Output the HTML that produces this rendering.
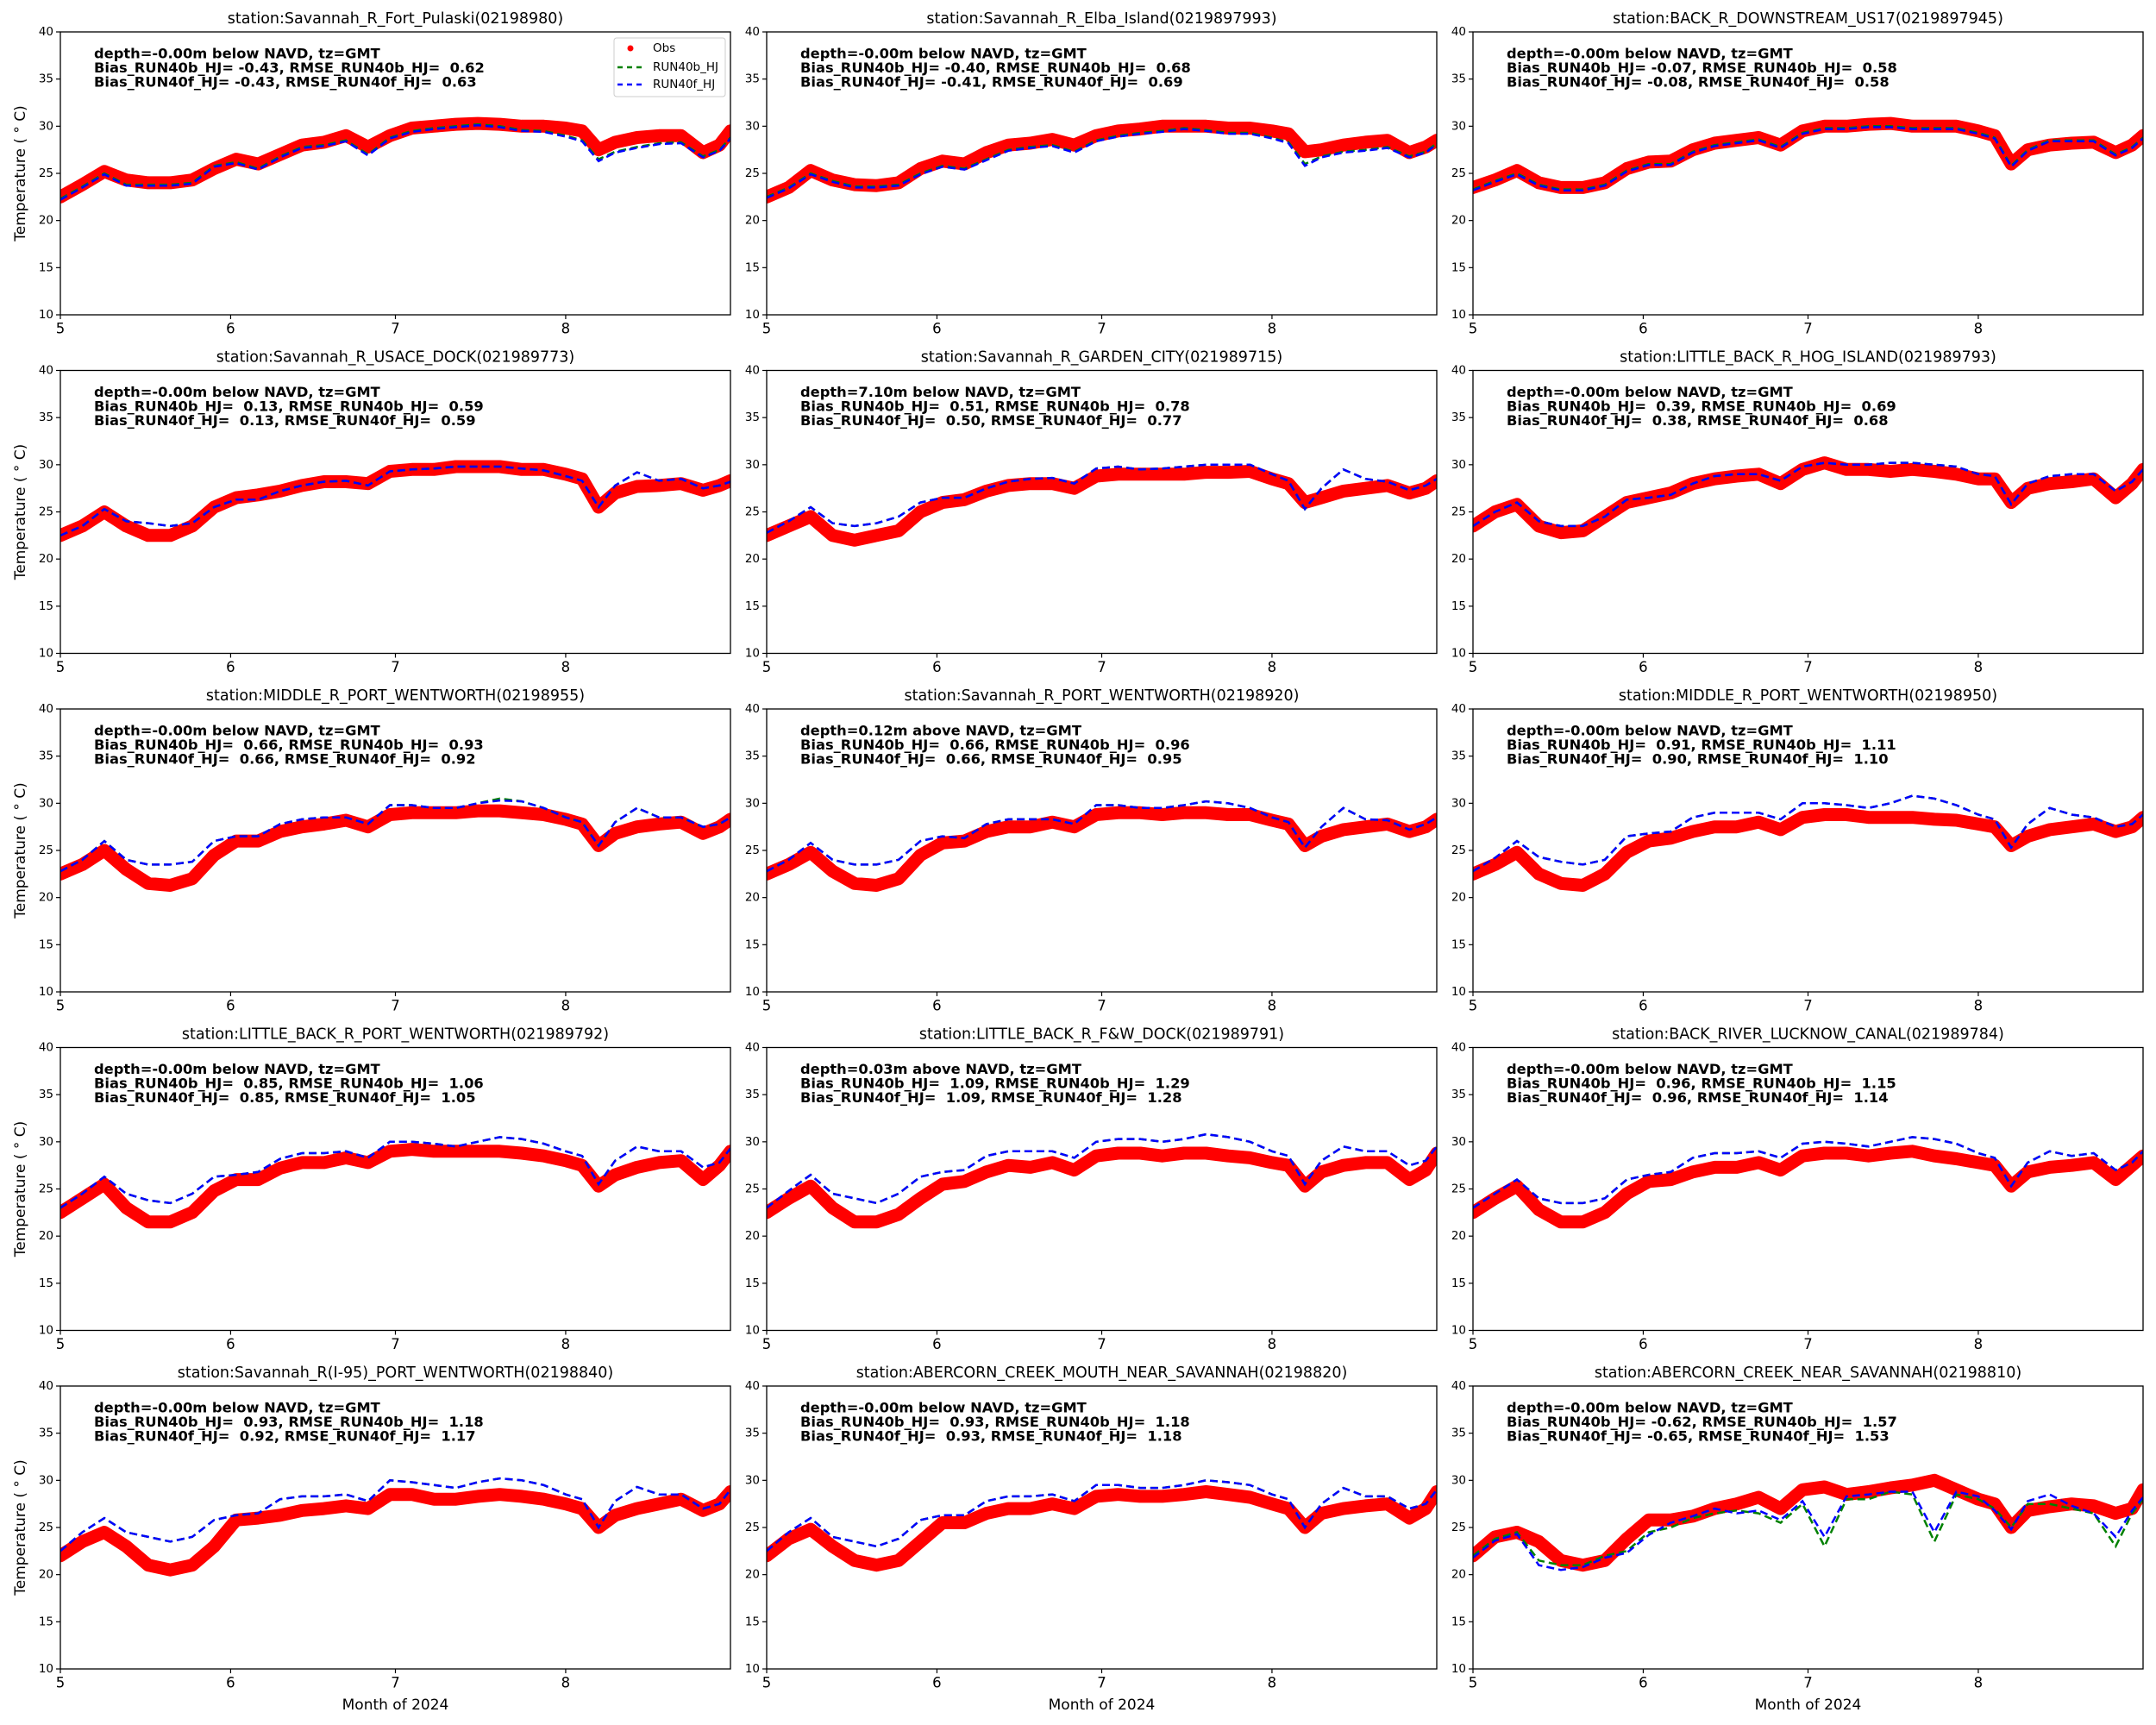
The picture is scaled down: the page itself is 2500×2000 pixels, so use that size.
<!DOCTYPE html>
<html><head><meta charset="utf-8">
<style>
html,body{margin:0;padding:0;background:#fff;}
svg{display:block;font-family:"DejaVu Sans","Liberation Sans",sans-serif;}
.pre{white-space:pre;}
</style></head>
<body>
<svg id="fig" width="2500" height="2000" viewBox="0 0 2500 2000" xmlns="http://www.w3.org/2000/svg">
<rect width="2500" height="2000" fill="#fff"/>
</svg>
<script>
// x values: day offsets from May 1, 2024
const days = [0,4,8,12,16,20,24,28,32,36,40,44,48,52,56,60,64,68,72,76,80,84,88,92,95,98,101,105,109,113,117,120,122];
const monthTicks = [0,31,61,92];
const monthLabels = ["5","6","7","8"];
const yTicks = [10,15,20,25,30,35,40];

const titles = [
"station:Savannah_R_Fort_Pulaski(02198980)",
"station:Savannah_R_Elba_Island(0219897993)",
"station:BACK_R_DOWNSTREAM_US17(0219897945)",
"station:Savannah_R_USACE_DOCK(021989773)",
"station:Savannah_R_GARDEN_CITY(021989715)",
"station:LITTLE_BACK_R_HOG_ISLAND(021989793)",
"station:MIDDLE_R_PORT_WENTWORTH(02198955)",
"station:Savannah_R_PORT_WENTWORTH(02198920)",
"station:MIDDLE_R_PORT_WENTWORTH(02198950)",
"station:LITTLE_BACK_R_PORT_WENTWORTH(021989792)",
"station:LITTLE_BACK_R_F&W_DOCK(021989791)",
"station:BACK_RIVER_LUCKNOW_CANAL(021989784)",
"station:Savannah_R(I-95)_PORT_WENTWORTH(02198840)",
"station:ABERCORN_CREEK_MOUTH_NEAR_SAVANNAH(02198820)",
"station:ABERCORN_CREEK_NEAR_SAVANNAH(02198810)"];

const depths = ["depth=-0.00m below NAVD, tz=GMT","depth=-0.00m below NAVD, tz=GMT","depth=-0.00m below NAVD, tz=GMT",
"depth=-0.00m below NAVD, tz=GMT","depth=7.10m below NAVD, tz=GMT","depth=-0.00m below NAVD, tz=GMT",
"depth=-0.00m below NAVD, tz=GMT","depth=0.12m above NAVD, tz=GMT","depth=-0.00m below NAVD, tz=GMT",
"depth=-0.00m below NAVD, tz=GMT","depth=0.03m above NAVD, tz=GMT","depth=-0.00m below NAVD, tz=GMT",
"depth=-0.00m below NAVD, tz=GMT","depth=-0.00m below NAVD, tz=GMT","depth=-0.00m below NAVD, tz=GMT"];
const biasB = ["-0.43","-0.40","-0.07"," 0.13"," 0.51"," 0.39"," 0.66"," 0.66"," 0.91"," 0.85"," 1.09"," 0.96"," 0.93"," 0.93","-0.62"];
const rmseB = ["0.62","0.68","0.58","0.59","0.78","0.69","0.93","0.96","1.11","1.06","1.29","1.15","1.18","1.18","1.57"];
const biasF = ["-0.43","-0.41","-0.08"," 0.13"," 0.50"," 0.38"," 0.66"," 0.66"," 0.90"," 0.85"," 1.09"," 0.96"," 0.92"," 0.93","-0.65"];
const rmseF = ["0.63","0.69","0.58","0.59","0.77","0.68","0.92","0.95","1.10","1.05","1.28","1.14","1.17","1.18","1.53"];

const obs = [
[22.5,23.8,25.2,24.3,24,24,24.3,25.5,26.5,26,27,28,28.3,29,27.8,29,29.8,30,30.2,30.3,30.2,30,30,29.8,29.5,27.5,28.3,28.8,29,29,27.2,28,29.5],
[22.5,23.5,25.3,24.3,23.8,23.7,24,25.5,26.3,26,27.2,28,28.2,28.6,28,29,29.5,29.7,30,30,30,29.8,29.8,29.5,29.2,27.3,27.5,28,28.3,28.5,27.2,27.8,28.5],
[23.5,24.3,25.3,24,23.5,23.5,24,25.5,26.2,26.3,27.5,28.2,28.5,28.8,28,29.5,30,30,30.2,30.3,30,30,30,29.5,29,26,27.5,28,28.2,28.3,27.2,28,29],
[22.5,23.5,25,23.5,22.5,22.5,23.5,25.5,26.5,26.8,27.2,27.8,28.2,28.2,28,29.3,29.5,29.5,29.8,29.8,29.8,29.5,29.5,29,28.5,25.5,27,27.7,27.8,28,27.3,27.8,28.3],
[22.5,23.5,24.5,22.5,22,22.5,23,25,26,26.3,27.2,27.8,28,28,27.5,28.8,29,29,29,29,29.2,29.2,29.3,28.5,28,26,26.5,27.2,27.5,27.8,27,27.5,28.3],
[23.5,25,25.8,23.5,22.8,23,24.5,26,26.5,27,28,28.5,28.8,29,28,29.5,30.2,29.5,29.5,29.3,29.5,29.3,29,28.5,28.5,26,27.5,28,28.2,28.5,26.5,28,29.5],
[22.5,23.5,25,23,21.5,21.3,22,24.5,26,26,27,27.5,27.8,28.2,27.5,28.8,29,29,29,29.2,29.2,29,28.8,28.3,27.8,25.5,26.8,27.5,27.8,28,26.8,27.5,28.3],
[22.5,23.5,24.8,22.8,21.5,21.3,22,24.5,25.8,26,27,27.5,27.5,28,27.5,28.8,29,29,28.8,29,29,28.8,28.8,28.2,27.8,25.5,26.5,27.2,27.5,27.8,27,27.5,28.3],
[22.5,23.5,24.8,22.5,21.5,21.3,22.5,24.8,26,26.3,27,27.5,27.5,28,27.2,28.5,28.8,28.8,28.5,28.5,28.5,28.3,28.2,27.8,27.5,25.5,26.5,27.2,27.5,27.8,27,27.5,28.5],
[22.5,24,25.5,23,21.5,21.5,22.5,24.8,26,26,27.2,27.8,27.8,28.3,27.8,29,29.2,29,29,29,29,28.8,28.5,28,27.5,25.3,26.5,27.3,27.8,28,26,27.5,29],
[22.5,24,25.3,23,21.5,21.5,22.3,24,25.5,25.8,26.8,27.5,27.3,27.8,27,28.5,28.8,28.8,28.5,28.8,28.8,28.5,28.3,27.8,27.5,25.3,26.8,27.5,27.8,27.8,26,27,28.8],
[22.5,24,25.3,22.8,21.5,21.5,22.5,24.5,25.8,26,26.8,27.3,27.3,27.8,27,28.5,28.8,28.8,28.5,28.8,29,28.5,28.2,27.8,27.5,25.3,26.8,27.3,27.5,27.8,26,27.5,28.5],
[22,23.5,24.5,23,21,20.5,21,23,25.8,26,26.3,26.8,27,27.3,27,28.5,28.5,28,28,28.3,28.5,28.3,28,27.5,27,25,26.3,27,27.5,28,26.8,27.5,28.8],
[22,23.8,24.8,23,21.5,21,21.5,23.5,25.5,25.5,26.5,27,27,27.5,27,28.3,28.5,28.3,28.3,28.5,28.8,28.5,28.2,27.5,27,25,26.5,27,27.3,27.5,26,27,28.8],
[22,24,24.5,23.5,21.5,21,21.5,23.8,25.8,25.8,26.2,27,27.5,28.2,27,29,29.3,28.5,28.8,29.2,29.5,30,29,28,27.5,25,26.8,27.2,27.5,27.3,26.5,27,29]];

const run40b = [
[22.3,23.6,25,23.8,23.8,23.8,24,25.8,26.2,25.5,26.8,27.8,28,28.5,27,28.8,29.5,29.8,30,30.2,30,29.6,29.5,29,28.5,26.5,27.3,27.8,28.2,28.3,26.8,27.5,28.8],
[22.5,23.5,25,24.2,23.6,23.6,23.8,25,25.8,25.5,26.5,27.5,27.8,28,27.3,28.5,29,29.3,29.5,29.8,29.6,29.3,29.3,28.8,28.3,26,26.8,27.3,27.5,27.8,26.8,27.3,28.2],
[23.3,24.2,25,23.8,23.3,23.3,23.8,25.3,26,26,27.3,28,28.3,28.6,27.8,29.3,29.8,29.8,30,30,29.8,29.8,29.8,29.3,28.8,25.8,27.5,28.5,28.5,28.5,27,27.8,28.8],
[22.5,23.5,25.3,24,23.8,23.5,23.8,25.5,26.3,26.3,27.2,27.8,28.2,28.3,27.8,29.3,29.5,29.6,29.8,29.8,29.8,29.6,29.4,28.8,28.3,25.5,27.8,29.2,28.3,28.5,27.5,27.8,28.2],
[22.8,24,25.5,23.8,23.5,23.8,24.5,26,26.5,26.5,27.5,28.2,28.5,28.6,28,29.6,29.8,29.5,29.6,29.8,30,30,30,29,28.3,25.3,27.5,29.5,28.5,28.2,27.3,27.8,28.5],
[23.5,25,26,24,23.5,23.5,24.5,26.3,26.5,26.8,28,28.8,29,29,28.3,29.8,30.2,30,30,30.2,30.2,30,29.8,29,28.8,25.8,28,28.8,29,29,27.2,28.2,29.5],
[22.8,24,26,24,23.5,23.5,23.8,26,26.5,26.5,27.8,28.3,28.5,28.5,27.8,29.8,29.8,29.5,29.5,30,30.5,30.2,29.5,28.5,28,25.5,28,29.5,28.5,28.5,27.5,27.8,28.5],
[22.8,24,25.8,24,23.5,23.5,24,26,26.5,26.3,27.8,28.3,28.3,28.3,27.8,29.8,29.8,29.5,29.5,29.8,30.2,30,29.5,28.5,28,25.3,27.5,29.5,28.3,28.2,27.2,27.8,28.5],
[22.8,24.2,26,24.3,23.8,23.5,24,26.5,26.8,27,28.5,29,29,29,28.3,30,30,29.8,29.5,30,30.8,30.5,29.8,28.8,28.3,25.3,27.8,29.5,28.8,28.5,27.5,27.8,28.8],
[23,24.5,26.3,24.5,23.8,23.5,24.5,26.3,26.5,26.8,28.2,28.8,28.8,29,28.3,30,30,29.8,29.5,30,30.5,30.3,29.8,29,28.5,25.5,28,29.5,29,29,27.3,27.8,29.3],
[23,24.8,26.5,24.5,24,23.5,24.5,26.3,26.8,27,28.5,29,29,29,28.3,30,30.3,30.3,30,30.3,30.8,30.5,30,29,28.5,25.5,28,29.5,29,29,27.5,28,29.5],
[23,24.5,26,24,23.5,23.5,24,26,26.5,26.8,28.3,28.8,28.8,29,28.3,29.8,30,29.8,29.5,30,30.5,30.3,29.8,28.8,28.3,25.3,27.8,29,28.5,28.8,27,27.8,29],
[22.5,24.5,26,24.5,24,23.5,24,25.8,26.3,26.5,28,28.3,28.3,28.5,27.8,30,29.8,29.5,29.2,29.8,30.2,30,29.5,28.5,28,25,27.8,29.3,28.5,28.5,27,27.5,29],
[22.5,24.5,26,24,23.5,23,23.8,25.8,26.3,26.3,27.8,28.3,28.3,28.5,27.8,29.5,29.5,29.2,29.2,29.5,30,29.8,29.5,28.5,28,25,27.5,29.2,28.3,28.3,27,27.5,29],
[22,23.8,24.5,21.5,21,21,22,22.5,24.5,25,26,26.5,26.8,26.5,25.5,27.5,23,28,28,28.8,28.5,23.5,28.5,28,27,25,27.5,27.5,27,26.5,23,26.5,28]];

const run40f = [
[22.2,23.5,24.9,23.7,23.7,23.7,23.9,25.7,26.1,25.4,26.7,27.7,27.9,28.4,26.9,28.7,29.4,29.7,29.9,30.1,29.9,29.5,29.4,28.9,28.4,26.3,27.2,27.7,28.1,28.2,26.7,27.4,28.7],
[22.4,23.4,24.9,24.1,23.5,23.5,23.7,24.9,25.7,25.4,26.4,27.4,27.7,27.9,27.2,28.4,28.9,29.2,29.4,29.7,29.5,29.2,29.2,28.7,28.2,25.8,26.7,27.2,27.4,27.7,26.7,27.2,28.1],
[23.2,24.1,24.9,23.7,23.2,23.2,23.7,25.2,25.9,25.9,27.2,27.9,28.2,28.5,27.7,29.2,29.7,29.7,29.9,29.9,29.7,29.7,29.7,29.2,28.7,25.7,27.4,28.4,28.4,28.4,26.9,27.7,28.7],
[22.5,23.5,25.3,24,23.8,23.5,23.8,25.5,26.3,26.3,27.2,27.8,28.2,28.3,27.8,29.3,29.5,29.6,29.8,29.8,29.8,29.6,29.4,28.8,28.3,25.5,27.8,29.2,28.3,28.5,27.5,27.8,28.2],
[22.8,24,25.5,23.8,23.5,23.8,24.5,26,26.5,26.5,27.5,28.2,28.5,28.6,28,29.6,29.8,29.5,29.6,29.8,30,30,30,29,28.3,25.3,27.5,29.5,28.5,28.2,27.3,27.8,28.5],
[23.5,25,26,24,23.5,23.5,24.5,26.3,26.5,26.8,28,28.8,29,29,28.3,29.8,30.2,30,30,30.2,30.2,30,29.8,29,28.8,25.8,28,28.8,29,29,27.2,28.2,29.5],
[22.8,24,26,24,23.5,23.5,23.8,26,26.5,26.5,27.8,28.3,28.5,28.5,27.8,29.8,29.8,29.5,29.5,30,30.3,30.2,29.5,28.5,28,25.5,28,29.5,28.5,28.5,27.5,27.8,28.5],
[22.8,24,25.8,24,23.5,23.5,24,26,26.5,26.3,27.8,28.3,28.3,28.3,27.8,29.8,29.8,29.5,29.5,29.8,30.2,30,29.5,28.5,28,25.3,27.5,29.5,28.3,28.2,27.2,27.8,28.5],
[22.8,24.2,26,24.3,23.8,23.5,24,26.5,26.8,27,28.5,29,29,29,28.3,30,30,29.8,29.5,30,30.8,30.5,29.8,28.8,28.3,25.3,27.8,29.5,28.8,28.5,27.5,27.8,28.8],
[23,24.5,26.3,24.5,23.8,23.5,24.5,26.3,26.5,26.8,28.2,28.8,28.8,29,28.3,30,30,29.8,29.5,30,30.5,30.3,29.8,29,28.5,25.5,28,29.5,29,29,27.3,27.8,29.3],
[23,24.8,26.5,24.5,24,23.5,24.5,26.3,26.8,27,28.5,29,29,29,28.3,30,30.3,30.3,30,30.3,30.8,30.5,30,29,28.5,25.5,28,29.5,29,29,27.5,28,29.5],
[23,24.5,26,24,23.5,23.5,24,26,26.5,26.8,28.3,28.8,28.8,29,28.3,29.8,30,29.8,29.5,30,30.5,30.3,29.8,28.8,28.3,25.3,27.8,29,28.5,28.8,27,27.8,29],
[22.5,24.5,26,24.5,24,23.5,24,25.8,26.3,26.5,28,28.3,28.3,28.5,27.8,30,29.8,29.5,29.2,29.8,30.2,30,29.5,28.5,28,25,27.8,29.3,28.5,28.5,27,27.5,29],
[22.5,24.5,26,24,23.5,23,23.8,25.8,26.3,26.3,27.8,28.3,28.3,28.5,27.8,29.5,29.5,29.2,29.2,29.5,30,29.8,29.5,28.5,28,25,27.5,29.2,28.3,28.3,27,27.5,29],
[21.8,23.6,24.3,21,20.5,20.8,21.8,22.3,24.2,25.5,26.2,27,26.5,26.8,25.8,27.8,24,28.3,28.5,28.8,28.8,24.5,28.8,28.3,26.8,24.8,27.8,28.5,27.3,26.5,24,26.8,28.2]];

const NS = "http://www.w3.org/2000/svg";
const fig = document.getElementById("fig");
const colLeft = [70, 889, 1708];
const rowTop = [37, 429.5, 822, 1214.5, 1607];
const W = 777, H = 328;
const X0 = 0, X1 = 122, Y0 = 10, Y1 = 40;

function mk(tag, attrs, parent) {
  const e = document.createElementNS(NS, tag);
  for (const k in attrs) e.setAttribute(k, attrs[k]);
  parent.appendChild(e);
  return e;
}

for (let p = 0; p < 15; p++) {
  const r = Math.floor(p / 3), c = p % 3;
  const L = colLeft[c], T = rowTop[r];
  const xS = d => L + (d - X0) / (X1 - X0) * W;
  const yS = v => T + (Y1 - v) / (Y1 - Y0) * H;

  const g = mk("g", {}, fig);
  
  

  const clipId = "clip" + p;
  const cp = mk("clipPath", {id: clipId}, g);
  mk("rect", {x: L, y: T, width: W, height: H}, cp);

  const title = mk("text", {x: L + W / 2, y: T - 15, "text-anchor": "middle", "dominant-baseline": "middle", "font-size": 17.5, fill: "#000"}, g);
  title.textContent = titles[p];
  
  

  yTicks.forEach(v => {
    mk("line", {x1: L - 5, x2: L, y1: yS(v), y2: yS(v), stroke: "#000", "stroke-width": 1.2}, g);
    const t = mk("text", {x: L - 8, y: yS(v), "text-anchor": "end", "dominant-baseline": "middle", "font-size": 13.5, fill: "#000"}, g);
    t.textContent = v;
    
    
  });
  monthTicks.forEach((d, i) => {
    mk("line", {x1: xS(d), x2: xS(d), y1: T + H, y2: T + H + 5, stroke: "#000", "stroke-width": 1.2}, g);
    const t = mk("text", {x: xS(d), y: T + H + 17, "text-anchor": "middle", "dominant-baseline": "middle", "font-size": 16.5, fill: "#000"}, g);
    t.textContent = monthLabels[i];
    
    
  });

  if (c === 0) {
    const yl = mk("text", {x: 0, y: 0, "text-anchor": "middle", "dominant-baseline": "middle", "font-size": 17, fill: "#000", transform: "translate(24," + (T + H / 2) + ") rotate(-90)"}, g);
    yl.textContent = "Temperature ( \u00B0 C)";
    
    
  }
  if (r === 4) {
    const xl = mk("text", {x: L + W / 2, y: T + H + 42, "text-anchor": "middle", "dominant-baseline": "middle", "font-size": 17, fill: "#000"}, g);
    xl.textContent = "Month of 2024";
    
    
  }

  const data = mk("g", {"clip-path": "url(#" + clipId + ")"}, g);
  const pts = arr => arr.map((v, i) => xS(days[i]).toFixed(1) + "," + yS(v).toFixed(1)).join(" ");

  const o = mk("polyline", {points: pts(obs[p]), fill: "none", stroke: "#ff0000", "stroke-width": 15, "stroke-linejoin": "round", "stroke-linecap": "round"}, data);
  
  
  const b = mk("polyline", {points: pts(run40b[p]), fill: "none", stroke: "#008000", "stroke-width": 2.5, "stroke-dasharray": "9,5"}, data);
  
  
  const f = mk("polyline", {points: pts(run40f[p]), fill: "none", stroke: "#0000ff", "stroke-width": 2.5, "stroke-dasharray": "9,5"}, data);
  
  

  mk("rect", {x: L, y: T, width: W, height: H, fill: "none", stroke: "#000", "stroke-width": 1.3}, g);

  const ann = [depths[p],
    "Bias_RUN40b_HJ= " + biasB[p] + ", RMSE_RUN40b_HJ=  " + rmseB[p],
    "Bias_RUN40f_HJ= " + biasF[p] + ", RMSE_RUN40f_HJ=  " + rmseF[p]];
  ann.forEach((s, i) => {
    const t = mk("text", {x: L + 39, y: T + 26 + i * 16.5, "dominant-baseline": "middle", "font-size": 16.3, "font-weight": "bold", fill: "#000", "class": "pre"}, g);
    t.textContent = s;
    
    
  });

  if (p === 0) {
    const lg = mk("g", {}, g);
    
    
    mk("rect", {x: 712, y: 44, width: 129, height: 68, rx: 3, fill: "#fff", stroke: "#ccc", "stroke-width": 1}, lg);
    mk("circle", {cx: 731, cy: 56, r: 3.5, fill: "#ff0000"}, lg);
    mk("line", {x1: 716, x2: 746, y1: 78, y2: 78, stroke: "#008000", "stroke-width": 2.5, "stroke-dasharray": "6,5"}, lg);
    mk("line", {x1: 716, x2: 746, y1: 98, y2: 98, stroke: "#0000ff", "stroke-width": 2.5, "stroke-dasharray": "6,5"}, lg);
    [["Obs", 56], ["RUN40b_HJ", 78], ["RUN40f_HJ", 98]].forEach(e => {
      const t = mk("text", {x: 757, y: e[1], "dominant-baseline": "middle", "font-size": 13.5, fill: "#000"}, lg);
      t.textContent = e[0];
      
      
    });
  }
}
</script>
</body></html>
